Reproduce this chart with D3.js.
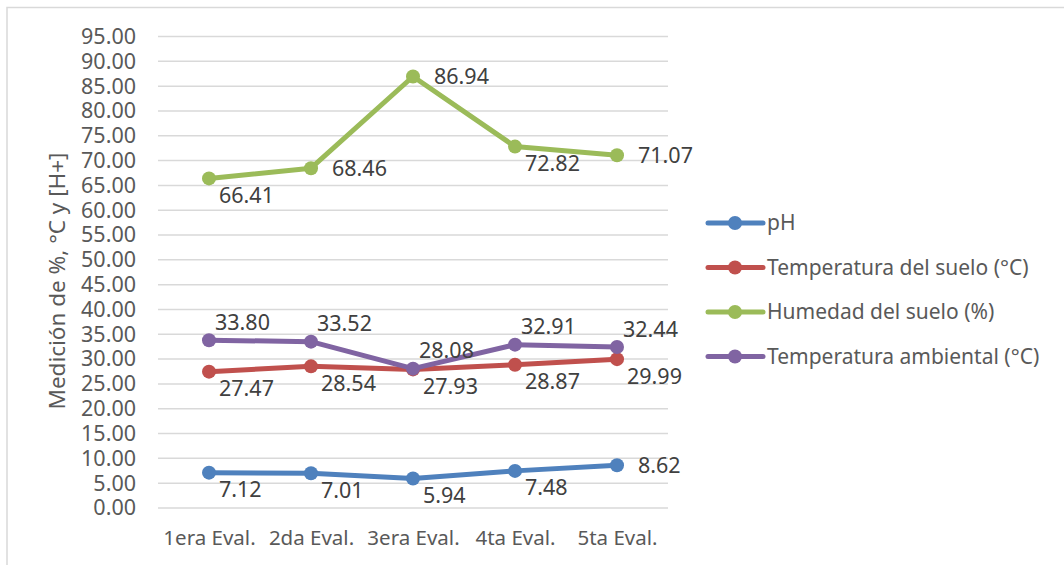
<!DOCTYPE html>
<html>
<head>
    <meta charset="utf-8">
    <title>Medición de pH, temperatura y humedad</title>
    <script src="https://d3js.org/d3.v7.min.js"></script>
    <style>
        body {margin: 0; background: #ffffff; font-family: "Noto Sans", sans-serif;}
        svg text {font-family: "Noto Sans", sans-serif;}
    </style>
</head>
<body>
<script>
    // Data
    const categories = ["1era Eval.", "2da Eval.", "3era Eval.", "4ta Eval.", "5ta Eval."];
    const seriesNames = ["pH", "Temperatura del suelo (°C)", "Humedad del suelo (%)", "Temperatura ambiental (°C)"];
    const phValues = [7.12, 7.01, 5.94, 7.48, 8.62];
    const soilTempValues = [27.47, 28.54, 27.93, 28.87, 29.99];
    const humidityValues = [66.41, 68.46, 86.94, 72.82, 71.07];
    const airTempValues = [33.80, 33.52, 28.08, 32.91, 32.44];
    const yTicks = [0, 5, 10, 15, 20, 25, 30, 35, 40, 45, 50, 55, 60, 65, 70, 75, 80, 85, 90, 95];

    // where each data label sits relative to its point: b = below, r = right, a = above
    const labelSide = [
        ["b", "b", "b", "b", "r"],
        ["b", "b", "b", "b", "b"],
        ["b", "r", "r", "b", "r"],
        ["a", "a", "a", "a", "a"]
    ];
    const colors = ["#4F81BD", "#C0504D", "#9BBB59", "#8064A2"];

    const width = 1064, height = 565;
    const svg = d3.select("body").append("svg")
        .attr("width", width)
        .attr("height", height);

    // chart border (only top and left are inside the picture)
    svg.append("rect")
        .attr("x", 7).attr("y", 7.5)
        .attr("width", 1100).attr("height", 600)
        .attr("fill", "none")
        .attr("stroke", "#D9D9D9")
        .attr("stroke-width", 1.5);

    const x = d3.scalePoint().domain(categories).range([158, 668]).padding(0.5);
    const y = d3.scaleLinear().domain([0, 95]).range([508, 36.5]);

    // gridlines
    svg.append("g")
        .selectAll("line")
        .data(yTicks)
        .join("line")
        .attr("x1", 158).attr("x2", 668)
        .attr("y1", d => y(d)).attr("y2", d => y(d))
        .attr("stroke", "#D9D9D9")
        .attr("stroke-width", 1.5);

    // y axis
    const yAxis = svg.append("g")
        .attr("transform", "translate(146,0)")
        .call(d3.axisLeft(y).tickValues(yTicks).tickFormat(d3.format(".2f")).tickSize(0).tickPadding(10));
    yAxis.select(".domain").remove();
    yAxis.selectAll("text")
        .attr("font-size", 21.5)
        .attr("fill", "#595959");

    // x axis
    const xAxis = svg.append("g")
        .attr("transform", "translate(0,508)")
        .call(d3.axisBottom(x).tickSize(0).tickPadding(22));
    xAxis.select(".domain").remove();
    xAxis.selectAll("text")
        .attr("font-size", 20.5)
        .attr("fill", "#595959");

    // y axis title
    svg.append("text")
        .attr("transform", "translate(65,281) rotate(-90)")
        .attr("text-anchor", "middle")
        .attr("font-size", 22.5)
        .attr("fill", "#595959")
        .text("Medición de %, °C y [H+]");

    const allSeries = [phValues, soilTempValues, humidityValues, airTempValues];
    const line = d3.line()
        .x((d, i) => x(categories[i]))
        .y(d => y(d));

    allSeries.forEach(function(values, s) {
        const g = svg.append("g");
        g.append("path")
            .datum(values)
            .attr("d", line)
            .attr("fill", "none")
            .attr("stroke", colors[s])
            .attr("stroke-width", 5)
            .attr("stroke-linejoin", "round")
            .attr("stroke-linecap", "round");
        g.selectAll("circle")
            .data(values)
            .join("circle")
            .attr("cx", (d, i) => x(categories[i]))
            .attr("cy", d => y(d))
            .attr("r", 7)
            .attr("fill", colors[s]);
    });

    // data labels drawn after all lines so they sit on top
    allSeries.forEach(function(values, s) {
        svg.append("g")
            .selectAll("text")
            .data(values)
            .join("text")
            .attr("x", function(d, i) {
                const side = labelSide[s][i];
                return x(categories[i]) + (side == "r" ? 21 : side == "a" ? 6 : 10);
            })
            .attr("y", function(d, i) {
                const side = labelSide[s][i];
                return y(d) + (side == "r" ? 0 : side == "a" ? -18 : 17);
            })
            .attr("dy", "0.35em")
            .attr("font-size", 21.5)
            .attr("fill", "#404040")
            .text(d => d3.format(".2f")(d));
    });

    // legend
    const legend = svg.append("g");
    seriesNames.forEach(function(name, s) {
        const ly = 223 + s * 44.5;
        legend.append("line")
            .attr("x1", 708).attr("x2", 763)
            .attr("y1", ly).attr("y2", ly)
            .attr("stroke", colors[s])
            .attr("stroke-width", 5)
            .attr("stroke-linecap", "round");
        legend.append("circle")
            .attr("cx", 735).attr("cy", ly)
            .attr("r", 7)
            .attr("fill", colors[s]);
        legend.append("text")
            .attr("x", 767).attr("y", ly)
            .attr("dy", "0.35em")
            .attr("font-size", 21)
            .attr("fill", "#595959")
            .text(name);
    });
</script>
</body>
</html>
